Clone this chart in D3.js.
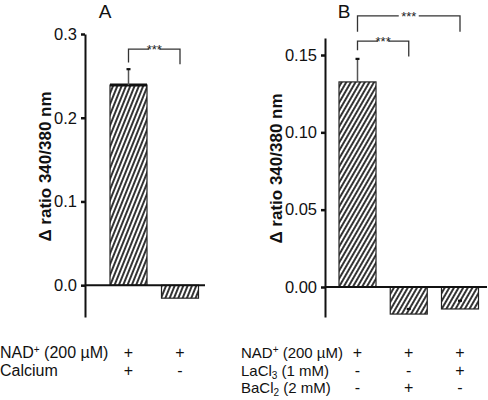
<!DOCTYPE html>
<html><head><meta charset="utf-8">
<script src="https://cdn.jsdelivr.net/npm/d3@7"></script>
<style>
body{margin:0;background:#fff;}
svg{display:block;font-family:"Liberation Sans",Arial,sans-serif;}
</style></head>
<body>
<svg id="c" width="488" height="400"></svg>
<script>
// ---- data ----
const catsA = ["NAD+Ca", "NAD"];
const valuesA = [0.239, -0.0155];
const errorsA = [0.019, 0];
const catsB = ["NAD", "NAD+Ba", "NAD+La"];
const valuesB = [0.1326, -0.0175, -0.0142];
const errorsB = [0.0149, 0.0033, 0.0053];
const ticksA = [0, 0.1, 0.2, 0.3];
const ticksB = [0, 0.05, 0.10, 0.15];
const rowLabelsA = ["NAD⁺ (200 µM)", "Calcium"];
const rowSymbolsA = [["+", "+"], ["+", "-"]];
const rowLabelsB = ["NAD⁺ (200 µM)", "LaCl3 (1 mM)", "BaCl2 (2 mM)"];
const rowSymbolsB = [["+", "+", "+"], ["-", "-", "+"], ["-", "+", "-"]];
const bracketsA = [{from: 0, to: 1, top: 0.282, left: 0.266, right: 0.264, label: "***"}];
const bracketsB = [
  {from: 0, to: 1, top: 0.159, left: 0.153, right: 0.149, label: "***"},
  {from: 0, to: 2, top: 0.1753, left: 0.165, right: 0.165, label: "***"}
];

const svg = d3.select("#c");
const defs = svg.append("defs");
function hatch(id, angle){
  const p = defs.append("pattern").attr("id", id).attr("patternUnits", "userSpaceOnUse")
    .attr("width", 4).attr("height", 10).attr("patternTransform", `rotate(${angle})`);
  p.append("rect").attr("width", 4).attr("height", 10).attr("fill", "#fff");
  p.append("line").attr("x1", 1).attr("x2", 1).attr("y1", -1).attr("y2", 11)
    .attr("stroke", "#000").attr("stroke-width", 1.6);
}
hatch("hA", 22);
hatch("hB", 30);

function panel(opt){
  const {cats, values, errors, ticks, fmt, y, xRange, zeroEnd, axisX, pat, title, titleX, brackets, labelX, rowLabels, rowSymbols, labelStart, thickTop, rowFont} = opt;
  const g = svg.append("g");
  const x = d3.scalePoint().domain(cats).range(xRange);
  const bw = 37;
  // axis
  const ax = g.append("g").attr("transform", `translate(${axisX},0)`)
    .call(d3.axisLeft(y).tickValues(ticks).tickFormat(d3.format(fmt)).tickSize(4).tickSizeOuter(0));
  ax.select(".domain").attr("stroke", "#111").attr("stroke-width", 2);
  ax.selectAll(".tick line").attr("stroke", "#111").attr("stroke-width", 2.5);
  ax.selectAll(".tick text").attr("font-size", 16.5).attr("fill", "#111")
    .attr("font-family", "Liberation Sans, Arial, sans-serif").attr("x", -8);
  // bars
  g.selectAll("rect.bar").data(values).enter().append("rect")
    .attr("x", (d, i) => x(cats[i]) - bw / 2)
    .attr("width", bw)
    .attr("y", d => y(Math.max(0, d)))
    .attr("height", d => Math.abs(y(d) - y(0)))
    .attr("fill", `url(#${pat})`).attr("stroke", "#222").attr("stroke-width", 1.2);
  if (thickTop) {
    g.append("line").attr("x1", x(cats[0]) - bw / 2).attr("x2", x(cats[0]) + bw / 2)
      .attr("y1", y(values[0])).attr("y2", y(values[0])).attr("stroke", "#111").attr("stroke-width", 3);
  }
  // error bars
  values.forEach((v, i) => {
    if (!errors[i]) return;
    const cx = x(cats[i]);
    const e = v + errors[i];
    g.append("line").attr("x1", cx).attr("x2", cx).attr("y1", y(v)).attr("y2", y(e))
      .attr("stroke", v >= 0 ? "#555" : "none").attr("stroke-width", 1.5);
    g.append("line").attr("x1", cx - 2).attr("x2", cx + 2).attr("y1", y(e)).attr("y2", y(e))
      .attr("stroke", "#111").attr("stroke-width", 2.2);
  });
  // zero line
  g.append("line").attr("x1", axisX).attr("x2", zeroEnd).attr("y1", y(0)).attr("y2", y(0))
    .attr("stroke", "#111").attr("stroke-width", 2);
  // brackets
  brackets.forEach(b => {
    const x1 = x(cats[b.from]), x2 = x(cats[b.to]);
    const mx = (x1 + x2) / 2, gap = (x2 - x1) > 60 ? 10 : 5;
    g.append("path").attr("d", `M${x1},${y(b.left)}V${y(b.top)}H${mx - gap}M${mx + gap},${y(b.top)}H${x2}V${y(b.right)}`)
      .attr("fill", "none").attr("stroke", "#333").attr("stroke-width", 1.3);
    g.append("text").attr("x", mx).attr("y", y(b.top) + 5).attr("text-anchor", "middle")
      .attr("font-size", 13).attr("fill", "#222").text(b.label);
  });
  // title
  g.append("text").attr("x", titleX).attr("y", 18).attr("text-anchor", "middle")
    .attr("font-size", 19).attr("fill", "#111").text(title);
  // y label
  const mid = (y.range()[0] + y.range()[1]) / 2;
  g.append("text").attr("transform", `translate(${labelX},${mid - 9}) rotate(-90)`)
    .attr("text-anchor", "middle").attr("font-size", 17).attr("font-weight", "bold").attr("fill", "#111")
    .text("Δ ratio 340/380 nm");
  // table rows
  rowLabels.forEach((lab, r) => {
    const by = 358 + r * 17.5;
    const t = g.append("text").attr("x", labelStart).attr("y", by).attr("font-size", rowFont).attr("fill", "#111");
    const m = lab.match(/^(\w+?)(\d)( .*)$/);
    if (lab.startsWith("NAD")) {
      t.append("tspan").text("NAD");
      t.append("tspan").attr("font-size", 10).attr("dy", -5).text("+");
      t.append("tspan").attr("dy", 5).text(" (200 µM)");
    } else if (m) {
      t.append("tspan").text(m[1]);
      t.append("tspan").attr("font-size", 10).attr("dy", 3).text(m[2]);
      t.append("tspan").attr("dy", -3).text(m[3]);
    } else {
      t.text(lab);
    }
    rowSymbols[r].forEach((s, i) => {
      g.append("text").attr("x", x(cats[i])).attr("y", by).attr("text-anchor", "middle")
        .attr("font-size", 16).attr("fill", "#111").text(s);
    });
  });
}

panel({
  cats: catsA, values: valuesA, errors: errorsA, ticks: ticksA, fmt: ".1f",
  y: d3.scaleLinear().domain([-0.038, 0.3]).range([317, 34]),
  xRange: [128.5, 180], zeroEnd: 205, axisX: 85, pat: "hA", title: "A", titleX: 105,
  brackets: bracketsA, labelX: 51, rowLabels: rowLabelsA, rowSymbols: rowSymbolsA, labelStart: 0, thickTop: true, rowFont: 16
});
panel({
  cats: catsB, values: valuesB, errors: errorsB, ticks: ticksB, fmt: ".2f",
  y: d3.scaleLinear().domain([-0.0194, 0.161]).range([317, 38]),
  xRange: [357.5, 460], zeroEnd: 487, axisX: 325, pat: "hB", title: "B", titleX: 344,
  brackets: bracketsB, labelX: 282, rowLabels: rowLabelsB, rowSymbols: rowSymbolsB, labelStart: 241, thickTop: false, rowFont: 15
});
</script>
</body></html>
